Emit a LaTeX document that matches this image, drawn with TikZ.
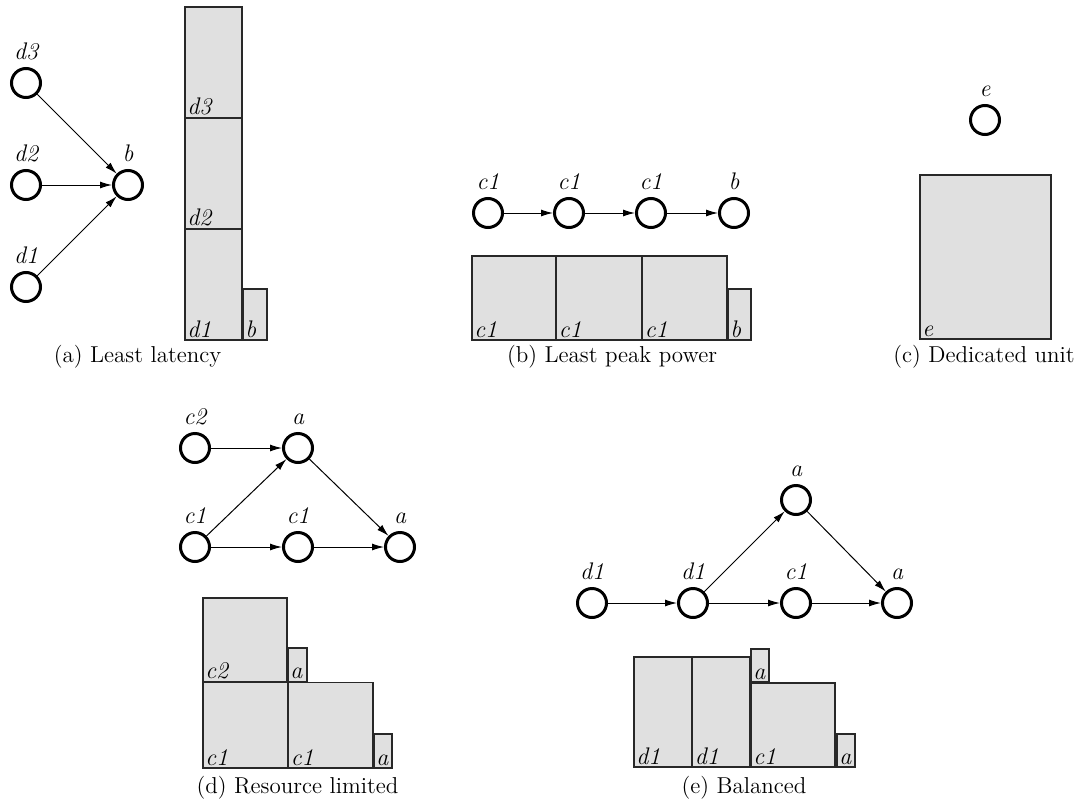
\documentclass[tikz,border=0pt]{standalone}
\usepackage{fontspec}
\usetikzlibrary{arrows.meta}
\definecolor{boxfill}{RGB}{224,224,224}
\definecolor{boxline}{RGB}{40,40,40}
\begin{document}
\begin{tikzpicture}[x=0.5pt,y=-0.5pt,
  vtx/.style={circle,draw=black,line width=1.5pt,minimum size=14.5pt,inner sep=0pt},
  lab/.style={anchor=base,inner sep=0pt,font=\fontsize{12}{14}\selectfont\itshape},
  boxlab/.style={anchor=base west,inner sep=0pt,font=\fontsize{12}{14}\selectfont\itshape},
  captext/.style={anchor=base,inner sep=0pt,font=\fontsize{11.5}{13}\selectfont\addfontfeatures{LetterSpace=2}},
  edge/.style={-{Latex[length=6pt,width=3.5pt]},line width=0.5pt},
  blk/.style={draw=boxline,fill=boxfill,line width=0.75pt}]
\useasboundingbox (0,0) rectangle (1081,803);

% ---------- (a) Least latency ----------
\node[vtx] (a-d3) at (26,83) {};
\node[vtx] (a-d2) at (26,185) {};
\node[vtx] (a-d1) at (26,287) {};
\node[vtx] (a-b)  at (128,185) {};
\node[lab] (a-ld3) at (26,59) {d3};
\node[lab] (a-ld2) at (26,161) {d2};
\node[lab] (a-ld1) at (26,263) {d1};
\node[lab] (a-lb)  at (128,161) {b};
\draw[edge] (a-d3) -- (a-b);
\draw[edge] (a-d2) -- (a-b);
\draw[edge] (a-d1) -- (a-b);
\draw[blk] (185,7) rectangle (242,117.5);
\draw[blk] (185,118.5) rectangle (242,228.5);
\draw[blk] (185,229.5) rectangle (242,340);
\draw[blk] (243,289) rectangle (267,340);
\node[boxlab] (a-bd3) at (187,114) {d3};
\node[boxlab] (a-bd2) at (187,225) {d2};
\node[boxlab] (a-bd1) at (187,337) {d1};
\node[boxlab] (a-bb)  at (245,337) {b};
\node[captext] (cap-a) at (137.5,362) {(a) Least latency};

% ---------- (b) Least peak power ----------
\node[vtx] (b-c1) at (488,213) {};
\node[vtx] (b-c2) at (569,213) {};
\node[vtx] (b-c3) at (651,213) {};
\node[vtx] (b-b)  at (734,213) {};
\node[lab] (b-lc1) at (488,189) {c1};
\node[lab] (b-lc2) at (569,189) {c1};
\node[lab] (b-lc3) at (651,189) {c1};
\node[lab] (b-lb)  at (734,189) {b};
\draw[edge] (b-c1) -- (b-c2);
\draw[edge] (b-c2) -- (b-c3);
\draw[edge] (b-c3) -- (b-b);
\draw[blk] (472,256) rectangle (555.5,340);
\draw[blk] (556.5,256) rectangle (641.5,340);
\draw[blk] (642.5,256) rectangle (727,340);
\draw[blk] (728,289) rectangle (751,340);
\node[boxlab] (b-bc1) at (474,337) {c1};
\node[boxlab] (b-bc2) at (558.5,337) {c1};
\node[boxlab] (b-bc3) at (644.5,337) {c1};
\node[boxlab] (b-bb)  at (730,337) {b};
\node[captext] (cap-b) at (612,362) {(b) Least peak power};

% ---------- (c) Dedicated unit ----------
\node[vtx] (c-e) at (985,120) {};
\node[lab] (c-le) at (985,96) {e};
\draw[blk] (920,175) rectangle (1051,339);
\node[boxlab] (c-be) at (922,336) {e};
\node[captext] (cap-c) at (984,362) {(c) Dedicated unit};

% ---------- (d) Resource limited ----------
\node[vtx] (d-c2) at (195,448) {};
\node[vtx] (d-a1) at (298,448) {};
\node[vtx] (d-c1a) at (195,547) {};
\node[vtx] (d-c1b) at (298,547) {};
\node[vtx] (d-a2) at (400,547) {};
\node[lab] (d-lc2) at (195,424) {c2};
\node[lab] (d-la1) at (298,424) {a};
\node[lab] (d-lc1a) at (195,523) {c1};
\node[lab] (d-lc1b) at (298,523) {c1};
\node[lab] (d-la2) at (400,523) {a};
\draw[edge] (d-c2) -- (d-a1);
\draw[edge] (d-c1a) -- (d-a1);
\draw[edge] (d-c1a) -- (d-c1b);
\draw[edge] (d-c1b) -- (d-a2);
\draw[edge] (d-a1) -- (d-a2);
\draw[blk] (203,598) rectangle (287,681.5);
\draw[blk] (288,648) rectangle (307,681.5);
\draw[blk] (203,682.5) rectangle (287.5,768);
\draw[blk] (288.5,682.5) rectangle (373,768);
\draw[blk] (374,734) rectangle (392,768);
\node[boxlab] (d-bc2) at (205,678) {c2};
\node[boxlab] (d-ba1) at (290,678) {a};
\node[boxlab] (d-bc1a) at (205,765) {c1};
\node[boxlab] (d-bc1b) at (290.5,765) {c1};
\node[boxlab] (d-ba2) at (376,765) {a};
\node[captext] (cap-d) at (297.5,793) {(d) Resource limited};

% ---------- (e) Balanced ----------
\node[vtx] (e-d1a) at (592,603) {};
\node[vtx] (e-d1b) at (693,603) {};
\node[vtx] (e-c1) at (796,603) {};
\node[vtx] (e-a2) at (897,603) {};
\node[vtx] (e-a1) at (796,500) {};
\node[lab] (e-ld1a) at (592,579) {d1};
\node[lab] (e-ld1b) at (693,579) {d1};
\node[lab] (e-lc1) at (796,579) {c1};
\node[lab] (e-la2) at (897,579) {a};
\node[lab] (e-la1) at (796,476) {a};
\draw[edge] (e-d1a) -- (e-d1b);
\draw[edge] (e-d1b) -- (e-c1);
\draw[edge] (e-c1) -- (e-a2);
\draw[edge] (e-d1b) -- (e-a1);
\draw[edge] (e-a1) -- (e-a2);
\draw[blk] (634,657) rectangle (691.5,767);
\draw[blk] (692.5,657) rectangle (749.5,767);
\draw[blk] (751,649) rectangle (769,682);
\draw[blk] (751,683) rectangle (835,767);
\draw[blk] (837,734) rectangle (855,767);
\node[boxlab] (e-bd1a) at (636,764) {d1};
\node[boxlab] (e-bd1b) at (694.5,764) {d1};
\node[boxlab] (e-ba1) at (753,679) {a};
\node[boxlab] (e-bc1) at (753,764) {c1};
\node[boxlab] (e-ba2) at (839,764) {a};
\node[captext] (cap-e) at (744,793) {(e) Balanced};
\end{tikzpicture}
\end{document}
